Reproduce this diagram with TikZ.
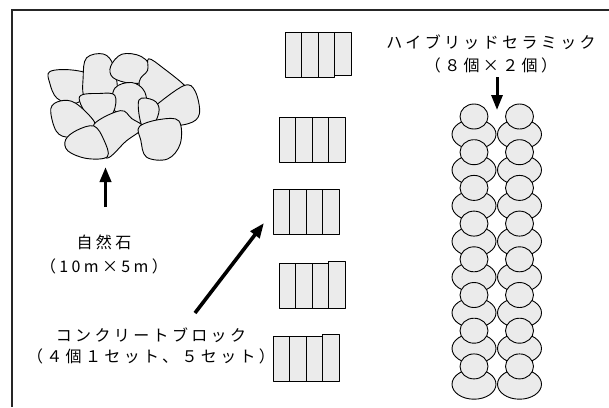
\documentclass[tikz,border=0pt]{standalone}
\usepackage{fontspec}
\newfontfamily\jp[LetterSpace=21]{Noto Sans CJK JP}
\usetikzlibrary{arrows.meta}
\definecolor{piecefill}{HTML}{EBEBEB}
\tikzset{
  piece/.style={draw=black, fill=piecefill, line width=0.9pt, line join=round},
  stone/.style={smooth cycle, tension=0.6},
  bigarrow/.style={-{Triangle[width=11pt,length=15pt]}, line width=3.6pt},
  jptext/.style={font=\jp\fontsize{16}{18}\selectfont, inner sep=0pt},
}
% one stone, blown up a little around its middle
\newcommand\rockat[2]{\draw[piece, scale around={1.13:(#1)}] plot[stone] coordinates {#2};}

\begin{document}
\begin{tikzpicture}[x=1pt,y=-1pt]
\useasboundingbox (0,0) rectangle (609,407);
% outer frame (only top and left edge inside the page)
\draw[line width=1.4pt, black!85] (12,407) -- (12,10) -- (609,10);

% natural stones
\rockat{67,86}{(51.7,73.3) (70,71.7) (86.7,76.7) (85,93.3) (73,101.7) (58,96.7) (51.7,83.3)}
\rockat{99,77}{(88,60) (103,56.7) (111.7,66.7) (115,90) (105,93) (86.7,95) (85,76.7)}
\rockat{131,70}{(113,66.7) (123,56) (140,58) (150,70) (143,80) (130,81.7) (115,76.7)}
\rockat{160,84}{(150,61.7) (163,70) (183,86.7) (176.7,90) (156.7,106.7) (145,100) (141.7,81.7) (149,72)}
\rockat{176,106}{(156.7,106.7) (183,88) (193,93) (196.7,113) (186.7,121.7) (163,123) (155,111.7)}
\rockat{131,104}{(116.7,90) (131.7,85) (143,93) (145,111.7) (138,125) (126.7,115) (115,108)}
\rockat{99,107}{(81.7,98) (100,95) (113,96.7) (111.7,111.7) (100,121.7) (90,116.7)}
\rockat{70,119}{(53,110) (61.7,103) (75,105) (91.7,121.7) (86.7,128) (70,135) (58,130)}
\rockat{149,113}{(140,101.7) (153,101.7) (158,110) (153,123) (143,125)}
\rockat{117,131}{(96.7,125) (120,113) (130,120) (140,128) (125,140) (108,155) (100,140)}
\rockat{86,143}{(68,140) (78,131.7) (93,128) (101.7,140) (105,155) (86.7,156.7) (70,150)}
\rockat{160,139}{(141.7,128) (160,121.7) (176.7,123) (178,143) (166.7,156.7) (148,155) (143,140)}

% concrete blocks: x, y, shift of 4th cell top, shift of 4th cell bottom
\foreach \bx/\by/\dt/\db in {285/32/0/-1.5, 279/117/0/0, 273/189/0/0, 279/263/-2/0, 273/336/-2/0} {
  \foreach \c in {0,1,2} {
    \draw[piece] (\bx+\c*16.5,\by) rectangle ++(16.5,45);
  }
  \draw[piece] (\bx+49.5,\by+\dt) rectangle (\bx+66,\by+45+\db);
}

% hybrid ceramics, two rows of 8
\foreach \cx in {474,519.5} {
  \foreach \i in {0,...,7} {
    \draw[piece] (\cx,116.5+\i*35.7+17.8) ellipse (22 and 15);
  }
  \foreach \i in {0,...,7} {
    \draw[piece] (\cx,116.5+\i*35.7) ellipse (14 and 12.5);
  }
}

% labels
\node[jptext] (stone) at (104,242) {自然石};
\node[jptext] (stonesize) at (104,266) {（10m×5m）};
\node[jptext] (block) at (151,335) {コンクリートブロック};
\node[jptext] (blockcount) at (151,356) {（４個１セット、５セット）};
\node[jptext] (ceramic) at (491,42) {ハイブリッドセラミック};
\node[jptext] (ceramiccount) at (491,65) {（８個×２個）};

% arrows
\coordinate (stonetail) at (105.5,207);
\coordinate (stonetip) at (105.5,167);
\coordinate (blocktail) at (195,313);
\coordinate (blocktip) at (264,223);
\coordinate (ceramictail) at (497,77);
\coordinate (ceramictip) at (497,110);
\draw[bigarrow] (stonetail) -- (stonetip);
\draw[bigarrow] (blocktail) -- (blocktip);
\draw[bigarrow, line width=3pt] (ceramictail) -- (ceramictip);
\end{tikzpicture}
\end{document}
